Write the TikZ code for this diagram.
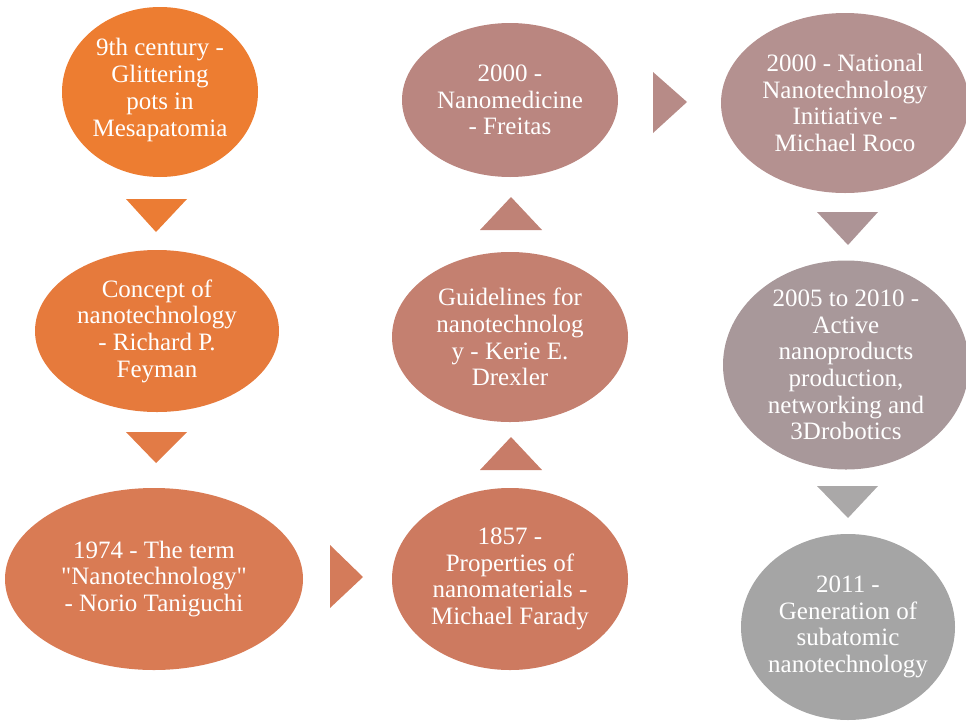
\documentclass[tikz,border=0pt]{standalone}
\usepackage{fontspec}
\setmainfont{Liberation Serif}
\newfontfamily\qfont{Liberation Serif}[Ligatures=TeXOff]
\usetikzlibrary{shapes.geometric}
\definecolor{c1}{RGB}{237,125,49}
\definecolor{c2}{RGB}{230,122,60}
\definecolor{c3}{RGB}{217,123,84}
\definecolor{c4}{RGB}{205,122,96}
\definecolor{c5}{RGB}{196,128,112}
\definecolor{c6}{RGB}{186,134,128}
\definecolor{c7}{RGB}{180,145,144}
\definecolor{c8}{RGB}{168,152,154}
\definecolor{c9}{RGB}{165,165,165}
\definecolor{t1}{RGB}{235,124,52}
\definecolor{t2}{RGB}{226,123,70}
\definecolor{t3}{RGB}{212,123,90}
\definecolor{t4}{RGB}{200,124,104}
\definecolor{t5}{RGB}{191,130,118}
\definecolor{t6}{RGB}{183,139,135}
\definecolor{t7}{RGB}{173,148,150}
\definecolor{t8}{RGB}{170,168,168}
\begin{document}
\begin{tikzpicture}[x=1pt,y=-1pt,
  bub/.style={ellipse,inner sep=0pt,draw=none},
  txt/.style={text=white,align=center,inner sep=0pt,font=\fontsize{25}{26.7}\selectfont}]
\useasboundingbox (0,0) rectangle (966,726);
% bubbles
\node[bub,fill=c1,minimum width=196pt,minimum height=170pt] (e1) at (160,92) {};
\node[bub,fill=c2,minimum width=244pt,minimum height=162pt] (e2) at (157,331) {};
\node[bub,fill=c3,minimum width=298pt,minimum height=182pt] (e3) at (154,579) {};
\node[bub,fill=c4,minimum width=236pt,minimum height=182pt] (e4) at (510,579) {};
\node[bub,fill=c5,minimum width=236pt,minimum height=170pt] (e5) at (510,337) {};
\node[bub,fill=c6,minimum width=216pt,minimum height=154pt] (e6) at (510,100) {};
\node[bub,fill=c7,minimum width=248pt,minimum height=180pt] (e7) at (845,103) {};
\node[bub,fill=c8,minimum width=246pt,minimum height=209pt] (e8) at (846,365) {};
\node[bub,fill=c9,minimum width=214pt,minimum height=186pt] (e9) at (848,627) {};
% texts
\node[txt] (e1t) at ([yshift=2pt]e1.center) {9th century -\\Glittering\\pots in\\Mesapatomia};
\node[txt] (e2t) at (e2) {Concept of\\nanotechnology\\- Richard P.\\Feyman};
\node[txt] (e3t) at (e3) {1974 - The term\\{\qfont"}Nanotechnology{\qfont"}\\- Norio Taniguchi};
\node[txt] (e4t) at (e4) {1857 -\\Properties of\\nanomaterials -\\Michael Farady};
\node[txt] (e5t) at (e5) {Guidelines for\\nanotechnolog\\y - Kerie E.\\Drexler};
\node[txt] (e6t) at (e6) {2000 -\\Nanomedicine\\- Freitas};
\node[txt] (e7t) at (e7) {2000 - National\\Nanotechnology\\Initiative -\\Michael Roco};
\node[txt] (e8t) at (e8) {2005 to 2010 -\\Active\\nanoproducts\\production,\\networking and\\3Drobotics};
\node[txt] (e9t) at (e9) {2011 -\\Generation of\\subatomic\\nanotechnology};
% triangles
\fill[t1] (126,199) -- (187,199) -- (156,232) -- cycle;
\fill[t2] (126,432) -- (187,432) -- (156,463) -- cycle;
\fill[t3] (330,545) -- (330,608) -- (363,577) -- cycle;
\fill[t4] (480,470) -- (542,470) -- (511,437) -- cycle;
\fill[t5] (480,230) -- (542,230) -- (511,197) -- cycle;
\fill[t6] (653,72) -- (653,133) -- (687,102) -- cycle;
\fill[t7] (817,212) -- (878,212) -- (848,245) -- cycle;
\fill[t8] (817,486) -- (878,486) -- (848,518) -- cycle;
\end{tikzpicture}
\end{document}
